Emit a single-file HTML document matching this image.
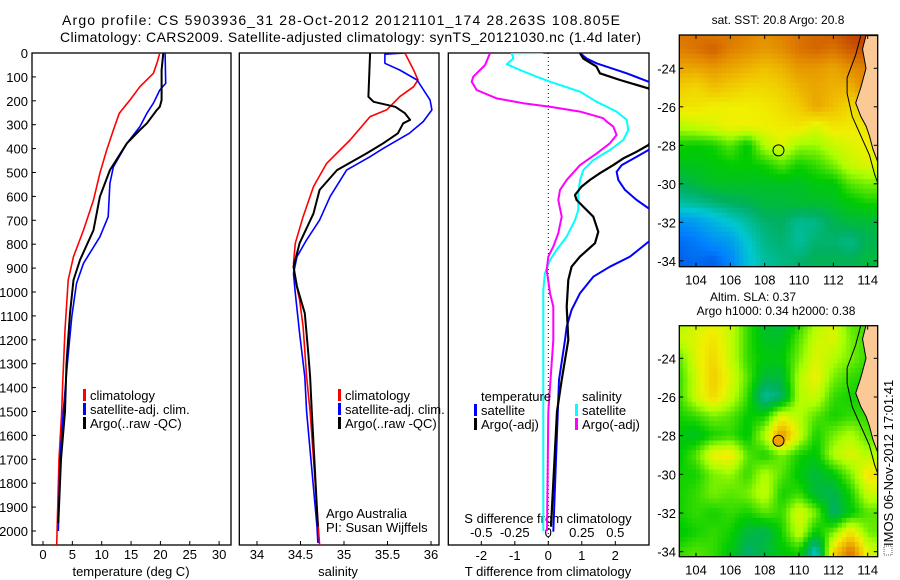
<!DOCTYPE html>
<html><head><meta charset="utf-8"><style>
html,body{margin:0;padding:0;background:#fff;}
svg{display:block;font-family:"Liberation Sans",Arial,sans-serif;}
</style></head><body>
<svg id="chart" width="900" height="580" viewBox="0 0 900 580" xmlns="http://www.w3.org/2000/svg">
<rect width="900" height="580" fill="#fff"/>
<text x="62" y="25" font-size="14" textLength="558">Argo profile: CS 5903936_31 28-Oct-2012 20121101_174 28.263S 108.805E</text>
<text x="60" y="42" font-size="14" textLength="581">Climatology: CARS2009. Satellite-adjusted climatology: synTS_20121030.nc (1.4d later)</text>
<defs>
<clipPath id="c1"><rect x="32" y="53" width="199" height="492"/></clipPath>
<clipPath id="c2"><rect x="239.3" y="53" width="199.7" height="492"/></clipPath>
<clipPath id="c3"><rect x="448.3" y="53" width="200.7" height="492"/></clipPath>
<clipPath id="m1"><rect x="679.3" y="35" width="198.4" height="231.7"/></clipPath>
<clipPath id="m2"><rect x="679.3" y="325.7" width="198.4" height="231"/></clipPath>
</defs>
<g id="layer"></g>
</svg>
<script>
// ---------- data ----------
const depthTicks = [0,100,200,300,400,500,600,700,800,900,1000,1100,1200,1300,1400,1500,1600,1700,1800,1900,2000];
const tempTicks = [0,5,10,15,20,25,30];
const salTicks = [34,34.5,35,35.5,36];
const tdiffTicks = [-2,-1,0,1,2];
const sdiffTickLabels = ["-0.5","-0.25","0","0.25","0.5"];
const sdiffTicks = [-0.5,-0.25,0,0.25,0.5];

const tClimDepth = [0,43,85,141,197,252,322,406,503,615,741,852,950,1159,1382,1500,1700,2058];
const tClimVal = [19.9,19.4,18.8,16.5,14.8,13.0,12.0,10.85,9.7,8.6,6.9,5.2,4.3,3.75,3.35,3.18,2.73,2.33];
const tSatDepth = [0,127,155,210,252,308,378,476,545,685,769,880,964,1103,1298,1500,1700,2000];
const tSatVal = [20.8,20.9,19.9,18.8,17.7,16.5,14.3,12.0,11.4,11.1,9.7,6.9,5.7,4.9,4.15,3.46,2.9,2.6];
const tArgoDepth = [0,71,197,225,238,294,322,378,490,601,741,866,950,1089,1298,1500,1700,1967];
const tArgoVal = [20.5,20.2,20.2,19.9,19.4,17.7,16.5,14.3,11.4,9.7,8.6,6.3,5.2,4.6,4.0,3.75,3.07,2.6];

const sClimDepth = [0,71,113,141,183,238,266,364,462,559,685,796,880,950,1033,1145,1354,1500,2058];
const sClimVal = [35.70,35.80,35.85,35.80,35.64,35.49,35.30,35.07,34.80,34.65,34.53,34.44,34.42,34.44,34.49,34.53,34.57,34.61,34.72];
const sSatDepth = [0,5,43,71,113,197,238,287,336,399,434,490,601,699,782,852,922,1005,1173,1354,1500,1982,2050];
const sSatVal = [35.70,35.47,35.47,35.64,35.84,35.99,36.01,35.91,35.75,35.45,35.30,35.03,34.84,34.72,34.57,34.46,34.42,34.44,34.49,34.55,34.57,34.69,34.70];
const sArgoDepth = [0,183,204,225,252,280,294,336,378,420,490,573,671,796,894,978,1089,1257,1354,1500,1982];
const sArgoVal = [35.30,35.28,35.34,35.59,35.70,35.76,35.68,35.62,35.45,35.26,34.92,34.72,34.65,34.49,34.42,34.46,34.55,34.59,34.61,34.63,34.70];

const dsArgoDepth = [1,50,99,120,155,190,210,225,245,273,287,308,343,378,420,469,531,573,615,685,754,810,852,908,1005,1061,1201,1500,2000];
const dsArgoVal = [-0.435,-0.472,-0.56,-0.572,-0.534,-0.385,-0.187,0.013,0.237,0.41,0.436,0.485,0.51,0.46,0.361,0.237,0.137,0.087,0.075,0.1,0.075,0.037,0,-0.012,0.013,0.037,0.037,0.0,-0.01];
const dsSatDepth = [0,1,23,47,71,99,120,162,204,245,280,322,364,406,448,490,531,587,657,699,768,824,866,922,992,1201,1500,2000];
const dsSatVal = [-0.037,-0.273,-0.261,-0.31,-0.211,-0.087,0.013,0.237,0.361,0.51,0.585,0.597,0.56,0.46,0.336,0.261,0.237,0.224,0.224,0.199,0.137,0.062,0.013,-0.025,-0.037,-0.037,-0.037,-0.037];
const dtArgoDepth = [1,23,57,85,113,148,230,385,413,441,469,503,531,559,594,615,636,685,748,796,852,894,950,1061,1201,1368,1500,1982];
const dtArgoVal = [0.946,1.045,1.44,1.54,2.14,2.99,3.6,2.99,2.64,2.24,1.94,1.54,1.245,0.995,0.796,0.846,0.995,1.343,1.493,1.393,0.946,0.697,0.597,0.548,0.597,0.4,0.26,0.08];
const dtSatDepth = [1,23,43,85,120,250,406,434,469,497,531,573,615,650,720,790,852,894,936,1005,1075,1145,1201,1368,2003];
const dtSatVal = [0.946,1.146,1.44,2.34,2.99,4,2.99,2.64,2.19,2.04,2.09,2.29,2.64,2.99,4,2.99,2.44,1.84,1.343,0.946,0.697,0.548,0.498,0.32,0.15];

const lonTicks = [104,106,108,110,112,114];
const latTicks = [-24,-26,-28,-30,-32,-34];
const gridLons = [103,104,105,106,107,108,109,110,111,112,113,114,115];
const gridLats = [-22,-23,-24,-25,-26,-27,-28,-29,-30,-31,-32,-33,-34];
const sstGrid = [
[.82,.82,.80,.82,.80,.78,.80,.82,.84,.86,.90,.92,.92],
[.80,.82,.85,.80,.78,.76,.78,.82,.84,.82,.86,.88,.88],
[.74,.74,.76,.74,.72,.70,.72,.76,.76,.74,.78,.80,.80],
[.68,.66,.70,.68,.66,.66,.68,.72,.74,.72,.72,.80,.80],
[.64,.64,.62,.62,.62,.63,.65,.68,.74,.70,.66,.68,.68],
[.56,.58,.60,.62,.62,.62,.63,.64,.60,.64,.63,.64,.64],
[.46,.45,.46,.50,.44,.56,.60,.54,.54,.58,.60,.62,.62],
[.43,.43,.44,.45,.45,.46,.50,.46,.48,.52,.58,.60,.60],
[.38,.40,.42,.42,.42,.42,.42,.42,.44,.44,.50,.52,.52],
[.32,.33,.35,.37,.38,.40,.40,.41,.41,.42,.44,.46,.46],
[.18,.20,.24,.28,.32,.36,.37,.33,.34,.38,.40,.40,.40],
[.12,.14,.18,.20,.28,.34,.36,.32,.36,.36,.34,.38,.38],
[.10,.12,.10,.16,.26,.32,.34,.36,.38,.38,.38,.40,.40]];
const slaGrid = [
[.55,.58,.60,.58,.48,.42,.38,.46,.55,.60,.50,.48,.48],
[.58,.60,.64,.58,.48,.42,.42,.50,.58,.60,.52,.48,.48],
[.50,.60,.66,.58,.48,.44,.44,.52,.60,.56,.52,.48,.48],
[.48,.58,.68,.60,.50,.40,.40,.56,.62,.52,.48,.46,.46],
[.48,.58,.66,.58,.48,.32,.36,.56,.58,.48,.46,.46,.46],
[.46,.48,.52,.50,.45,.46,.60,.56,.50,.46,.48,.48,.48],
[.44,.42,.46,.48,.44,.56,.78,.58,.46,.52,.56,.50,.50],
[.44,.50,.62,.64,.50,.46,.52,.46,.44,.56,.60,.56,.56],
[.46,.46,.52,.54,.48,.56,.50,.44,.40,.44,.52,.64,.64],
[.46,.48,.52,.50,.52,.58,.46,.48,.40,.38,.46,.58,.58],
[.46,.48,.46,.48,.46,.50,.48,.60,.52,.36,.44,.50,.50],
[.44,.46,.48,.46,.40,.38,.46,.58,.44,.52,.64,.52,.50],
[.48,.50,.48,.44,.36,.40,.44,.46,.28,.66,.82,.60,.56]];
const argoLon = 108.805, argoLat = -28.263;
const landLon = [113.9,113.7,113.9,113.6,113.3,113.6,113.9,114.1,114.3,114.6,114.6];
const landLat = [-22.3,-23,-24,-25,-25.8,-26.5,-27,-27.5,-28.2,-28.9,-22.3];
const isoLon = [113.6,113.3,112.8,112.8,113.1,113.6,114.1,114.4,114.6];
const isoLat = [-22.3,-23.3,-24.5,-25.3,-26.5,-27.5,-28.5,-29.5,-30];

// ---------- helpers ----------
const NS = "http://www.w3.org/2000/svg";
const layer = document.getElementById('layer');
function mk(tag, attrs, parent){ const e=document.createElementNS(NS,tag); for(const k in attrs) e.setAttribute(k,attrs[k]); (parent||layer).appendChild(e); return e; }
function txt(x,y,s,size,anchor,parent){ const t=mk('text',{x:x,y:y,'font-size':size,'text-anchor':anchor||'start'},parent); t.textContent=s; return t; }

const Y = d => 53 + d*0.239;
const XT = v => 43 + v*5.87;
const XS = v => 257 + (v-34)*87;
const XDT = v => 548.3 + v*33.5;
const XDS = v => 548.3 + v*134;

// panel frames
const panels = [[32,231,'temperature-panel'],[239.3,439,'salinity-panel'],[448.3,649,'difference-panel']];
panels.forEach(p=>{
  const r = mk('rect',{x:p[0],y:53,width:p[1]-p[0],height:492,fill:'none',stroke:'#000','stroke-width':1.3});
  
  
});
// depth ticks & labels
depthTicks.forEach(d=>{
  const t = txt(28,Y(d)+5,String(d),13,'end');
  
  
  mk('line',{x1:32,x2:36,y1:Y(d),y2:Y(d),stroke:'#000'});
});
// x ticks
tempTicks.forEach(v=>{
  mk('line',{x1:XT(v),x2:XT(v),y1:545,y2:541,stroke:'#000'});
  const t = txt(XT(v),559,String(v),13,'middle');
  
  
});
salTicks.forEach(v=>{
  mk('line',{x1:XS(v),x2:XS(v),y1:545,y2:541,stroke:'#000'});
  const t = txt(XS(v),559,String(v),13,'middle');
  
  
});
tdiffTicks.forEach(v=>{
  mk('line',{x1:XDT(v),x2:XDT(v),y1:545,y2:541,stroke:'#000'});
  const t = txt(XDT(v),560,String(v),13,'middle');
  
  
});
sdiffTicks.forEach((v,i)=>{
  const t = txt(XDS(v),537,sdiffTickLabels[i],13,'middle');
  
  
});
let a;
a = txt(131,576,'temperature (deg C)',13,'middle');  
a = txt(338,576,'salinity',13,'middle');  
a = txt(548,576,'T difference from climatology',13,'middle');  
a = txt(548,523,'S difference from climatology',13,'middle');  

// zero line
mk('line',{x1:XDT(0),x2:XDT(0),y1:53,y2:545,stroke:'#000','stroke-dasharray':'1,3'});

function series(depths, vals, xf, color, w, clip, name){
  const pts = depths.map((d,i)=>xf(vals[i]).toFixed(1)+','+Y(d).toFixed(1)).join(' ');
  const p = mk('polyline',{points:pts,fill:'none',stroke:color,'stroke-width':w,'clip-path':'url(#'+clip+')','stroke-linejoin':'round'});
  
  
}
series(tClimDepth,tClimVal,XT,'#ff0000',1.6,'c1','temp-climatology-line');
series(tSatDepth,tSatVal,XT,'#0000ff',1.6,'c1','temp-satellite-line');
series(tArgoDepth,tArgoVal,XT,'#000',2,'c1','temp-argo-line');
series(sClimDepth,sClimVal,XS,'#ff0000',1.6,'c2','sal-climatology-line');
series(sSatDepth,sSatVal,XS,'#0000ff',1.6,'c2','sal-satellite-line');
series(sArgoDepth,sArgoVal,XS,'#000',2,'c2','sal-argo-line');
series(dsSatDepth,dsSatVal,XDS,'#00ffff',2,'c3','s-diff-satellite-line');
series(dsArgoDepth,dsArgoVal,XDS,'#ff00ff',2,'c3','s-diff-argo-line');
series(dtSatDepth,dtSatVal,XDT,'#0000ff',2,'c3','t-diff-satellite-line');
series(dtArgoDepth,dtArgoVal,XDT,'#000',2.2,'c3','t-diff-argo-line');

function legend(x,y,color,label,name){
  const g = mk('g',{});
  
  
  if(color) mk('rect',{x:x,y:y-11,width:3,height:12,fill:color},g);
  txt(x+7,y,label,13,'start',g);
}
legend(83,400,'#ff0000','climatology','legend-temp-climatology');
legend(83,414,'#0000ff','satellite-adj. clim.','legend-temp-satellite');
legend(83,428,'#000','Argo(..raw -QC)','legend-temp-argo');
legend(338,400,'#ff0000','climatology','legend-sal-climatology');
legend(338,414,'#0000ff','satellite-adj. clim.','legend-sal-satellite');
legend(338,428,'#000','Argo(..raw -QC)','legend-sal-argo');
a = txt(481,401,'temperature',13);  
legend(474,415,'#0000ff','satellite','legend-t-diff-satellite');
legend(474,429,'#000','Argo(-adj)','legend-t-diff-argo');
a = txt(582,401,'salinity',13);  
legend(575,415,'#00ffff','satellite','legend-s-diff-satellite');
legend(575,429,'#ff00ff','Argo(-adj)','legend-s-diff-argo');
a = txt(326,518,'Argo Australia',13);  
a = txt(326,532,'PI: Susan Wijffels',13);  

// ---------- maps ----------
const stops = [[0,[0,32,192]],[0.15,[0,128,255]],[0.28,[0,200,210]],[0.37,[0,176,96]],[0.45,[0,204,0]],[0.55,[170,255,0]],[0.62,[240,240,0]],[0.7,[240,192,0]],[0.8,[224,128,0]],[0.9,[192,64,0]],[1,[144,0,0]]];
function cmap(v){
  v=Math.max(0,Math.min(1,v));
  for(let i=1;i<stops.length;i++){ if(v<=stops[i][0]){ const a=stops[i-1],b=stops[i]; const f=(v-a[0])/(b[0]-a[0]); const c=a[1].map((x,k)=>Math.round(x+(b[1][k]-x)*f)); return 'rgb('+c.join(',')+')'; } }
  return 'rgb(144,0,0)';
}
function interp(grid, lon, lat){
  let fx = lon-103, fy = -22-lat;
  fx=Math.max(0,Math.min(11.999,fx)); fy=Math.max(0,Math.min(11.999,fy));
  const i=Math.floor(fy), j=Math.floor(fx), u=fx-j, w=fy-i;
  return grid[i][j]*(1-u)*(1-w)+grid[i][j+1]*u*(1-w)+grid[i+1][j]*(1-u)*w+grid[i+1][j+1]*u*w;
}
function drawMap(grid, latY0, latScale, top, bottom, clip, name, title1, title2){
  const LX = lon => 696 + (lon-104)*17.17;
  const LY = lat => latY0 + (-24-lat)*latScale;
  const g = mk('g',{'clip-path':'url(#'+clip+')'});
  
  
  const step=0.25;
  for(let lat=-22.25; lat>-34.5; lat-=step){
    for(let lon=103.0; lon<114.75; lon+=step){
      const v = interp(grid, lon+step/2, lat-step/2);
      mk('rect',{x:LX(lon).toFixed(2),y:LY(lat).toFixed(2),width:(step*17.17+0.6).toFixed(2),height:(step*latScale+0.6).toFixed(2),fill:cmap(v)},g);
    }
  }
  const land = mk('polygon',{points:landLon.map((l,i)=>LX(l).toFixed(1)+','+LY(landLat[i]).toFixed(1)).join(' '),fill:'#fbc996',stroke:'#000','stroke-width':1},g);
  
  
  mk('polyline',{points:isoLon.map((l,i)=>LX(l).toFixed(1)+','+LY(isoLat[i]).toFixed(1)).join(' '),fill:'none',stroke:'#000','stroke-width':1},g);
  const c = mk('circle',{cx:LX(argoLon),cy:LY(argoLat),r:5.5,fill:'none',stroke:'#000','stroke-width':1});
  
  
  const fr = mk('rect',{x:679.3,y:top,width:198.4,height:bottom-top,fill:'none',stroke:'#000','stroke-width':1.3});
  
  
  lonTicks.forEach(l=>{
    mk('line',{x1:LX(l),x2:LX(l),y1:top,y2:top+4,stroke:'#000'});
    mk('line',{x1:LX(l),x2:LX(l),y1:bottom,y2:bottom-4,stroke:'#000'});
    const t = txt(LX(l),bottom+18,String(l),13,'middle');
    
    
  });
  latTicks.forEach(l=>{
    mk('line',{x1:679.3,x2:683.3,y1:LY(l),y2:LY(l),stroke:'#000'});
    mk('line',{x1:877.7,x2:873.7,y1:LY(l),y2:LY(l),stroke:'#000'});
    const t = txt(676,LY(l)+5,String(l),13,'end');
    
    
  });
}
drawMap(sstGrid, 68.3, 19.25, 35, 266.7, 'm1', 'sst-map');
drawMap(slaGrid, 358.3, 19.34, 325.7, 556.7, 'm2', 'sla-map');
// fill SLA marker
const lastC = layer.querySelectorAll('circle');
lastC[1].setAttribute('fill','#f0a000');

a = txt(778,24,'sat. SST: 20.8 Argo: 20.8',12,'middle');  
a = txt(753,301,'Altim. SLA: 0.37',12,'middle');  
a = txt(776,315,'Argo h1000: 0.34 h2000: 0.38',12,'middle');  
const side = txt(0,0,'IMOS 06-Nov-2012 17:01:41',13,'start');
side.setAttribute('transform','translate(893,546) rotate(-90)');


const box = mk('rect',{x:884,y:546,width:8,height:9,fill:'none',stroke:'#666','stroke-dasharray':'1,1'});


</script>
</body></html>
